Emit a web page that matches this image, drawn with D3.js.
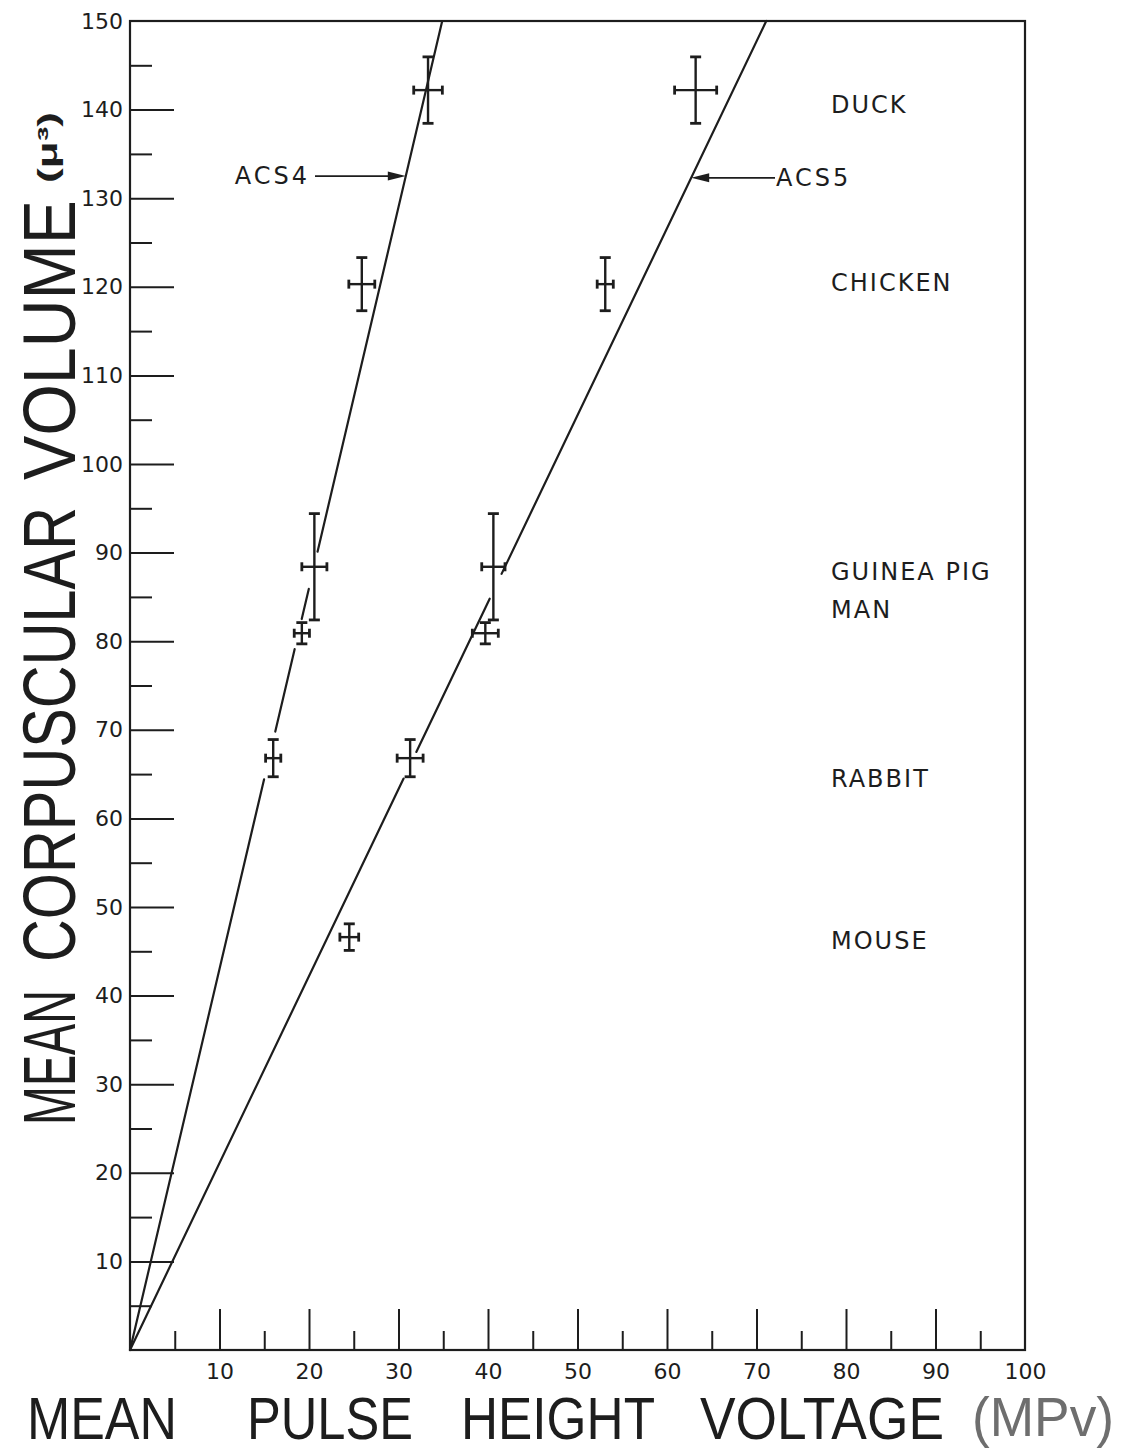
<!DOCTYPE html>
<html>
<head>
<meta charset="utf-8">
<script src="https://cdn.jsdelivr.net/npm/d3@7"></script>
<style>
  body { margin: 0; background: #fff; }
  svg { display: block; }
</style>
</head>
<body>
<svg id="chart" width="1122" height="1453"></svg>
<script>
// Red cell species measured on two counters
const animals = ["DUCK", "CHICKEN", "GUINEA PIG", "MAN", "RABBIT", "MOUSE"];
// Mean corpuscular volume (cubic microns) and its spread
const volume = [142.2, 120.3, 88.4, 80.9, 66.8, 46.6];
const volumeErr = [3.75, 3.0, 6.0, 1.2, 2.1, 1.5];
// Mean pulse height voltage read on ACS 4 (no mouse reading)
const acs4Voltage = [33.3, 25.9, 20.6, 19.2, 16.0, null];
const acs4VoltageErr = [1.6, 1.45, 1.4, 0.85, 0.85, null];
// Mean pulse height voltage read on ACS 5
const acs5Voltage = [63.2, 53.1, 40.6, 39.7, 31.3, 24.5];
const acs5VoltageErr = [2.35, 0.9, 1.3, 1.45, 1.45, 1.05];

// Calibration lines: volume per MPv, drawn in pieces broken around the markers
const calibNames = ["ACS4", "ACS5"];
const calibSlope = [4.3, 2.11];
const calibPieces = [
  [[0, 64.4], [69.8, 79.1], [82.5, 85.9], [90.1, 150]],
  [[0, 64.5], [67.5, 84.8], [87.6, 150]]
];
const calibArrowVolume = [132.5, 132.3];

// Axis ticks
const xMajor = [10, 20, 30, 40, 50, 60, 70, 80, 90];
const xMinor = [5, 15, 25, 35, 45, 55, 65, 75, 85, 95];
const xLabels = [10, 20, 30, 40, 50, 60, 70, 80, 90, 100];
const yMajor = [10, 20, 30, 40, 50, 60, 70, 80, 90, 100, 110, 120, 130, 140];
const yMinor = [5, 15, 25, 35, 45, 55, 65, 75, 85, 95, 105, 115, 125, 135, 145];
const yLabels = [10, 20, 30, 40, 50, 60, 70, 80, 90, 100, 110, 120, 130, 140, 150];

const INK = "#1d1d1d";
const svg = d3.select("#chart");

const x = d3.scaleLinear().domain([0, 100]).range([130, 1025]);
const y = d3.scaleLinear().domain([0, 150]).range([1350, 21]);

// ---- frame ----
svg.append("rect")
  .attr("x", x(0)).attr("y", y(150))
  .attr("width", x(100) - x(0)).attr("height", y(0) - y(150))
  .attr("fill", "none").attr("stroke", INK).attr("stroke-width", 2.2);

function styleAxis(g) {
  g.select(".domain").remove();
  g.selectAll(".tick line").attr("stroke", INK).attr("stroke-width", 2);
  g.selectAll(".tick text")
    .attr("fill", INK)
    .style("font-family", "'DejaVu Sans', sans-serif")
    .style("font-size", "22px");
}

// ---- y axis: long ticks at tens, short at fives, pointing inward ----
svg.append("g")
  .attr("transform", `translate(${x(0)},0)`)
  .call(d3.axisLeft(y).tickValues(yMajor).tickSizeInner(-44).tickSizeOuter(0).tickFormat(""))
  .call(styleAxis);
svg.append("g")
  .attr("transform", `translate(${x(0)},0)`)
  .call(d3.axisLeft(y).tickValues(yMinor).tickSizeInner(-22).tickSizeOuter(0).tickFormat(""))
  .call(styleAxis);
svg.append("g")
  .attr("transform", `translate(${x(0)},0)`)
  .call(d3.axisLeft(y).tickValues(yLabels).tickSize(0).tickPadding(7).tickFormat(d3.format("d")))
  .call(styleAxis);

// ---- x axis ----
svg.append("g")
  .attr("transform", `translate(0,${y(0)})`)
  .call(d3.axisBottom(x).tickValues(xMajor).tickSizeInner(-41).tickSizeOuter(0).tickFormat(""))
  .call(styleAxis);
svg.append("g")
  .attr("transform", `translate(0,${y(0)})`)
  .call(d3.axisBottom(x).tickValues(xMinor).tickSizeInner(-19).tickSizeOuter(0).tickFormat(""))
  .call(styleAxis);
svg.append("g")
  .attr("transform", `translate(0,${y(0)})`)
  .call(d3.axisBottom(x).tickValues(xLabels).tickSize(0).tickPadding(13).tickFormat(d3.format("d")))
  .call(styleAxis);

// ---- calibration lines ----
const plot = svg.append("g");
calibPieces.forEach((pieces, i) => {
  const k = calibSlope[i];
  plot.selectAll(null).data(pieces).join("line")
    .attr("x1", d => x(d[0] / k)).attr("y1", d => y(d[0]))
    .attr("x2", d => x(d[1] / k)).attr("y2", d => y(d[1]))
    .attr("stroke", INK).attr("stroke-width", 2.2).attr("stroke-linecap", "round");
});

// ---- error crosses ----
function crosses(voltages, voltErrs) {
  const pts = animals.map((a, i) => ({
    v: voltages[i], ve: voltErrs[i], m: volume[i], me: volumeErr[i]
  })).filter(d => d.v != null);
  const g = plot.append("g").attr("stroke", INK).attr("stroke-width", 2.4).attr("fill", "none");
  const capW = 5.5, capH = 4.5;
  pts.forEach(d => {
    const cx = x(d.v), cy = y(d.m);
    const yt = y(d.m + d.me), yb = y(d.m - d.me);
    const xl = x(d.v - d.ve), xr = x(d.v + d.ve);
    g.append("line").attr("x1", cx).attr("x2", cx).attr("y1", yt).attr("y2", yb);
    g.append("line").attr("x1", xl).attr("x2", xr).attr("y1", cy).attr("y2", cy);
    g.append("line").attr("x1", cx - capW).attr("x2", cx + capW).attr("y1", yt).attr("y2", yt).attr("stroke-width", 2.8);
    g.append("line").attr("x1", cx - capW).attr("x2", cx + capW).attr("y1", yb).attr("y2", yb).attr("stroke-width", 2.8);
    g.append("line").attr("x1", xl).attr("x2", xl).attr("y1", cy - capH).attr("y2", cy + capH).attr("stroke-width", 2.8);
    g.append("line").attr("x1", xr).attr("x2", xr).attr("y1", cy - capH).attr("y2", cy + capH).attr("stroke-width", 2.8);
  });
}
crosses(acs4Voltage, acs4VoltageErr);
crosses(acs5Voltage, acs5VoltageErr);

// ---- ACS labels with arrows pointing at their lines ----
const labelFont = "'DejaVu Sans', sans-serif";
function arrowLabel(i, tailX, side) {
  const m = calibArrowVolume[i];
  const tipX = x(m / calibSlope[i]);
  const ay = y(m);
  const dir = side === "left" ? 1 : -1; // arrow travels right for a label on the left
  const headLen = 18, headHalf = 4.5;
  plot.append("line")
    .attr("x1", tailX).attr("y1", ay).attr("x2", tipX - dir * headLen * 0.5).attr("y2", ay)
    .attr("stroke", INK).attr("stroke-width", 1.8);
  plot.append("path")
    .attr("d", `M${tipX},${ay} L${tipX - dir * headLen},${ay - headHalf} L${tipX - dir * headLen},${ay + headHalf} Z`)
    .attr("fill", INK);
  svg.append("text")
    .attr("x", side === "left" ? tailX - 5 : tailX + 1)
    .attr("y", ay + 1)
    .attr("dominant-baseline", "middle")
    .attr("text-anchor", side === "left" ? "end" : "start")
    .attr("fill", INK)
    .style("font-family", labelFont).style("font-size", "24px").style("letter-spacing", "3px")
    .text(calibNames[i]);
}
arrowLabel(0, 315, "left");
arrowLabel(1, 775, "right");

// ---- species names down the right side ----
const labelNudge = [16, 0, 6, -22, 22, 5];
svg.append("g").selectAll("text").data(animals).join("text")
  .attr("x", 831)
  .attr("y", (d, i) => y(volume[i]) + labelNudge[i])
  .attr("dominant-baseline", "middle")
  .attr("fill", INK)
  .style("font-family", labelFont).style("font-size", "24px").style("letter-spacing", "2px")
  .text(d => d);

// ---- axis titles ----
const titleFont = "'Liberation Sans', Arial, sans-serif";
const xTitleWords = [
  { t: "MEAN", x0: 27, x1: 177, fill: INK, size: 60, base: 1439 },
  { t: "PULSE", x0: 247, x1: 413, fill: INK, size: 60, base: 1439 },
  { t: "HEIGHT", x0: 461, x1: 655, fill: INK, size: 60, base: 1439 },
  { t: "VOLTAGE", x0: 700, x1: 944, fill: INK, size: 60, base: 1439 },
  { t: "(MPv)", x0: 972, x1: 1114, fill: "#6e6e6e", size: 55, base: 1436 }
];
svg.append("g").selectAll("text").data(xTitleWords).join("text")
  .attr("x", d => d.x0).attr("y", d => d.base)
  .attr("textLength", d => d.x1 - d.x0)
  .attr("lengthAdjust", "spacingAndGlyphs")
  .attr("fill", d => d.fill)
  .style("font-family", titleFont).style("font-size", d => d.size + "px")
  .text(d => d.t);

const yTitleWords = [
  { t: "MEAN", y0: 1125, y1: 990 },
  { t: "CORPUSCULAR", y0: 962, y1: 507 },
  { t: "VOLUME", y0: 480, y1: 200 }
];
svg.append("g").selectAll("text").data(yTitleWords).join("text")
  .attr("transform", d => `translate(75,${d.y0}) rotate(-90)`)
  .attr("textLength", d => d.y0 - d.y1)
  .attr("lengthAdjust", "spacingAndGlyphs")
  .attr("fill", INK)
  .style("font-family", titleFont).style("font-size", "75px")
  .text(d => d.t);
svg.append("text")
  .attr("transform", "translate(57,183) rotate(-90)")
  .attr("textLength", 71)
  .attr("lengthAdjust", "spacingAndGlyphs")
  .attr("fill", INK)
  .style("font-family", titleFont).style("font-size", "28px").style("font-weight", "bold")
  .text("(\u03bc\u00b3)");
</script>
</body>
</html>
